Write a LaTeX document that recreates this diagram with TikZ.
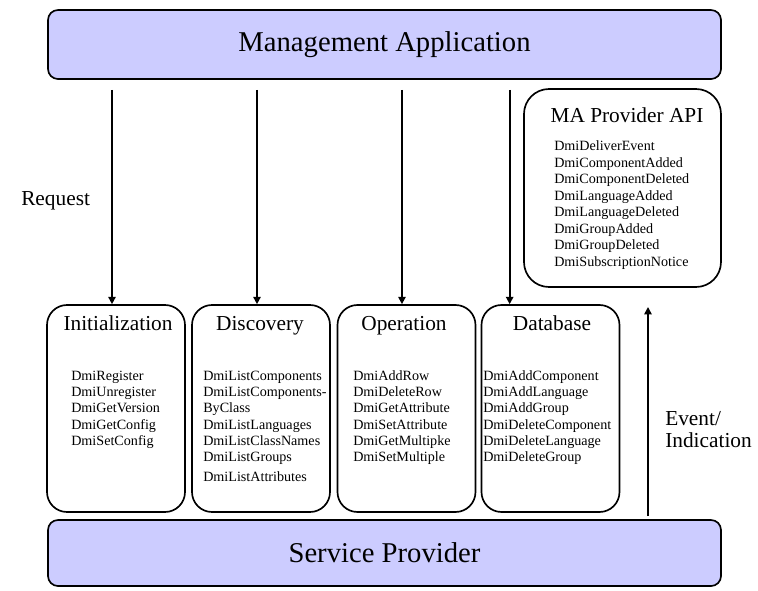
\documentclass[tikz,border=0pt]{standalone}
\usepackage{fontspec}
\setmainfont{Liberation Serif}
\usetikzlibrary{arrows.meta,positioning}
\definecolor{boxblue}{RGB}{204,204,255}
\tikzset{
    bigbox/.style={draw,line width=1.25pt,fill=boxblue,rounded corners=7.5pt,minimum width=504.75pt,minimum height=51.75pt,font=\fontsize{21.5}{24}\selectfont},
    apibox/.style={draw,line width=1.25pt,rounded corners=15pt,minimum width=103.5pt,minimum height=155.25pt},
    boxtitle/.style={font=\fontsize{16}{19}\selectfont,inner sep=0pt,anchor=base},
    item/.style={font=\fontsize{10.6}{12}\selectfont,inner sep=0pt,anchor=base west},
    flow/.style={-{Triangle[length=5.5pt,width=5.5pt]},line width=1.25pt},
}
\begin{document}
\begin{tikzpicture}[x=0.75pt,y=-0.75pt]
    \useasboundingbox (0,0) rectangle (758,590);
    \node[bigbox] (ma) at (384.5,44.5) {Management Application};%上面的管理应用
    \node[bigbox,minimum height=49.5pt] (sp) at (384.5,553) {Service Provider};%下面的服务提供者
    \node[apibox] (init) at (116,408.5) {};
    \node[apibox] (disc) at (261,408.5) {};
    \node[apibox] (oper) at (406.5,408.5) {};
    \node[apibox] (dbase) at (550.5,408.5) {};
    \node[apibox,minimum width=147.75pt,minimum height=148.5pt,rounded corners=18.75pt] (prov) at (622.5,188) {};
    \node[boxtitle] (init-t) at (118,330) {Initialization};
    \node[boxtitle] (disc-t) at (260,330) {Discovery};
    \node[boxtitle] (oper-t) at (404,330) {Operation};
    \node[boxtitle] (dbase-t) at (552,330) {Database};
    \node[boxtitle] (prov-t) at (627,122) {MA Provider API};
    \foreach \t [count=\i from 0] in {DmiRegister,DmiUnregister,DmiGetVersion,DmiGetConfig,DmiSetConfig}
        \node[item] (init-\i) at (71,380.5+16.2*\i) {\t};
    \foreach \t [count=\i from 0] in {DmiListComponents,DmiListComponents-,ByClass,DmiListLanguages,DmiListClassNames,DmiListGroups}
        \node[item] (disc-\i) at (203,380.5+16.2*\i) {\t};
    \node[item] (disc-6) at (203,481.5) {DmiListAttributes};
    \foreach \t [count=\i from 0] in {DmiAddRow,DmiDeleteRow,DmiGetAttribute,DmiSetAttribute,DmiGetMultipke,DmiSetMultiple}
        \node[item] (oper-\i) at (353,380.5+16.2*\i) {\t};
    \foreach \t [count=\i from 0] in {DmiAddComponent,DmiAddLanguage,DmiAddGroup,DmiDeleteComponent,DmiDeleteLanguage,DmiDeleteGroup}
        \node[item] (dbase-\i) at (483,380.5+16.2*\i) {\t};
    \foreach \t [count=\i from 0] in {DmiDeliverEvent,DmiComponentAdded,DmiComponentDeleted,DmiLanguageAdded,DmiLanguageDeleted,DmiGroupAdded,DmiGroupDeleted,DmiSubscriptionNotice}
        \node[item] (prov-\i) at (554,150.5+16.5*\i) {\t};
    \node[boxtitle,anchor=base west] (req) at (21,205) {Request};
    \node[boxtitle,anchor=base west] (evt) at (665,425) {Event/};
    \node[boxtitle,anchor=base west] (ind) at (665,447) {Indication};
    % 请求箭头
    \draw[flow,shorten <=7.5pt] ([xshift=-3pt]ma.south -| init.north) -- ([xshift=-3pt]init.north);
    \draw[flow,shorten <=7.5pt] ([xshift=-3pt]ma.south -| disc.north) -- ([xshift=-3pt]disc.north);
    \draw[flow,shorten <=7.5pt] ([xshift=-3.4pt]ma.south -| oper.north) -- ([xshift=-3.4pt]oper.north);
    \coordinate (dbin) at ([xshift=21.75pt]dbase.north west);
    \draw[flow,shorten <=7.5pt] (ma.south -| dbin) -- (dbin);
    % 事件箭头
    \coordinate (evtop) at (648,307);
    \draw[flow,shorten <=2.25pt] (sp.north -| evtop) -- (evtop);
\end{tikzpicture}
\end{document}
